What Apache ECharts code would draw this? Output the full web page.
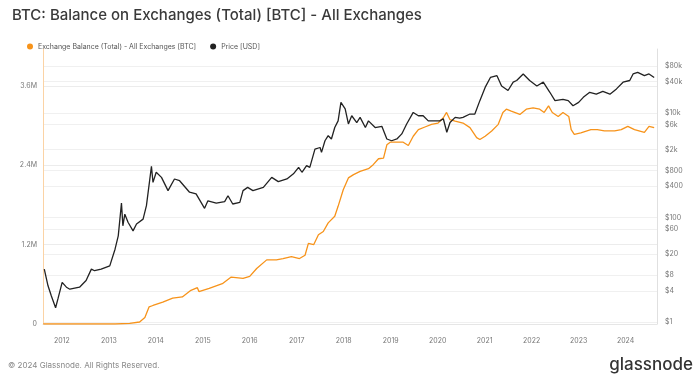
<!DOCTYPE html>
<html><head><meta charset="utf-8">
<script src="https://cdn.jsdelivr.net/npm/echarts@6/dist/echarts.min.js"></script>
<style>html,body{margin:0;padding:0;background:#fff}#c{width:700px;height:380px}</style>
</head><body><div id="c"></div>
<script>
const priceDates = ['2011-08-18','2011-09-16','2011-10-12','2011-11-14','2011-12-02','2012-01-04','2012-02-06','2012-03-04','2012-05-18','2012-07-08','2012-08-18','2012-09-12','2012-11-02','2013-01-08','2013-02-18','2013-03-15','2013-04-09','2013-04-20','2013-05-05','2013-05-30','2013-07-08','2013-08-04','2013-09-24','2013-10-20','2013-11-28','2013-12-10','2014-01-04','2014-02-14','2014-04-06','2014-05-26','2014-07-05','2014-09-20','2014-11-10','2015-01-15','2015-02-10','2015-04-16','2015-06-20','2015-07-16','2015-08-22','2015-10-16','2015-11-10','2015-12-16','2016-01-26','2016-04-16','2016-06-20','2016-08-10','2016-10-16','2016-12-06','2017-01-15','2017-02-10','2017-03-18','2017-04-12','2017-05-22','2017-07-01','2017-07-12','2017-08-08','2017-09-02','2017-09-27','2017-10-23','2017-11-18','2017-12-10','2018-01-12','2018-02-06','2018-03-04','2018-04-12','2018-05-08','2018-06-18','2018-07-12','2018-09-02','2018-10-24','2018-12-02','2019-01-08','2019-02-18','2019-03-28','2019-05-05','2019-06-25','2019-08-04','2019-09-10','2019-10-20','2019-11-28','2020-01-18','2020-02-14','2020-03-12','2020-04-06','2020-05-16','2020-06-20','2020-07-16','2020-09-08','2020-10-16','2020-11-24','2021-01-04','2021-02-14','2021-04-06','2021-05-12','2021-07-01','2021-08-10','2021-09-06','2021-10-27','2021-12-16','2022-02-10','2022-04-01','2022-05-22','2022-07-01','2022-09-01','2022-10-12','2022-11-18','2023-01-01','2023-02-06','2023-03-28','2023-05-18','2023-07-08','2023-09-01','2023-10-22','2023-12-12','2024-02-02','2024-02-28','2024-04-04','2024-05-26','2024-07-01','2024-08-10'];
const priceValues = [10.4,5.0,3.2,1.9,2.8,5.8,4.7,4.3,4.7,6.3,10.4,9.7,10.4,12,25,45,190,70,117,82,56,76,94,170,960,475,740,590,330,550,510,307,285,151,211,190,203,263,183,196,330,380,330,380,590,490,550,690,915,740,990,915,2050,2200,1780,2960,3700,3200,5300,7100,16000,12000,6200,8900,6600,8300,5300,7100,5300,5600,3200,2960,3200,4000,6200,10300,8900,8900,7100,7100,7100,7800,4300,6600,8300,8000,8300,9600,9600,17300,31000,48000,52000,33000,27000,39000,42000,56000,42000,33000,39000,25000,17300,18300,17300,13800,16000,20000,25000,23000,26000,23000,29000,39000,42000,56000,60000,52000,56000,48000];

const balanceDates = ['2011-08-10','2013-02-18','2013-06-12','2013-08-28','2013-10-08','2013-11-10','2013-12-10','2014-02-24','2014-05-12','2014-07-26','2014-10-01','2014-11-20','2014-12-02','2015-02-20','2015-06-02','2015-08-10','2015-11-10','2016-01-01','2016-02-24','2016-05-12','2016-07-26','2016-09-16','2016-11-20','2017-01-22','2017-03-06','2017-04-01','2017-05-12','2017-06-18','2017-07-26','2017-09-02','2017-10-23','2017-11-18','2017-12-28','2018-02-06','2018-03-18','2018-05-08','2018-07-12','2018-08-18','2018-09-28','2018-11-06','2018-12-02','2018-12-28','2019-04-08','2019-05-18','2019-06-25','2019-08-04','2019-09-24','2019-11-14','2020-01-04','2020-02-14','2020-03-10','2020-04-06','2020-05-16','2020-07-16','2020-09-08','2020-10-30','2020-11-24','2021-01-04','2021-02-24','2021-04-16','2021-05-22','2021-06-18','2021-07-26','2021-10-01','2021-11-20','2022-01-12','2022-03-04','2022-04-08','2022-05-12','2022-06-10','2022-07-26','2022-09-01','2022-10-16','2022-11-04','2022-11-28','2023-01-18','2023-04-06','2023-05-26','2023-07-20','2023-10-08','2023-11-28','2024-01-18','2024-03-10','2024-05-26','2024-07-01','2024-08-10'];
const balanceValues = [0,0,10000,30000,100000,260000,280000,330000,390000,410000,510000,550000,490000,540000,610000,710000,690000,720000,840000,970000,970000,990000,1020000,990000,1040000,1220000,1200000,1350000,1400000,1530000,1630000,1780000,2030000,2210000,2260000,2310000,2350000,2410000,2500000,2510000,2710000,2750000,2750000,2700000,2840000,2940000,2980000,3020000,3040000,3120000,3200000,3090000,3070000,3040000,2970000,2820000,2790000,2840000,2920000,3020000,3200000,3250000,3220000,3170000,3250000,3270000,3250000,3200000,3300000,3200000,3140000,3200000,3140000,2940000,2870000,2890000,2940000,2940000,2920000,2920000,2940000,2990000,2940000,2900000,2990000,2970000];

const leftTicks = [0, 1200000, 2400000, 3600000];
const priceTicks = [1, 4, 8, 20, 60, 100, 400, 800, 2000, 6000, 10000, 40000, 80000];
const yearTicks = ['2012','2013','2014','2015','2016','2017','2018','2019','2020','2021','2022','2023','2024'];

const FONT = 'Inter, Roboto, "Noto Sans", sans-serif';
const ts = d => Date.parse(d + 'T00:00:00Z');
const chart = echarts.init(document.getElementById('c'));
const yearTs = yearTicks.map(y => ts(y + '-01-01'));

chart.setOption({
  animation: false,
  backgroundColor: '#fff',
  textStyle: { fontFamily: FONT },
  title: {
    text: 'BTC: Balance on Exchanges (Total) [BTC] - All Exchanges',
    left: 7, top: 3,
    textStyle: { fontSize: 15, fontWeight: 500, color: '#3a3a3a', fontFamily: FONT }
  },
  legend: {
    left: 22, top: 38, itemWidth: 6, itemHeight: 6, itemGap: 14, icon: 'circle',
    textStyle: { fontSize: 7, color: '#555', fontFamily: FONT },
    data: ['Exchange Balance (Total) - All Exchanges [BTC]', 'Price [USD]']
  },
  grid: { left: 43, right: 43, top: 49, bottom: 56 },
  xAxis: {
    type: 'value',
    min: ts('2011-08-08'),
    max: ts('2024-09-01'),
    axisLine: { show: true, lineStyle: { color: '#e6e6e6' } },
    axisTick: { show: false, customValues: yearTs },
    splitLine: { show: false },
    axisLabel: {
      customValues: yearTs, fontSize: 7, color: '#777', margin: 13,
      formatter: v => String(new Date(v).getUTCFullYear())
    }
  },
  yAxis: [
    {
      type: 'value', min: 0, max: 4160000, position: 'left',
      axisLine: { show: true, lineStyle: { color: '#fbd3a5' } },
      axisTick: { show: false, customValues: leftTicks },
      splitLine: { show: true, lineStyle: { color: '#ececec', width: 1 } },
      axisLabel: {
        customValues: leftTicks, fontSize: 7, color: '#777', margin: 6,
        formatter: v => v === 0 ? '0' : (v / 1e6).toFixed(1) + 'M'
      }
    },
    {
      type: 'log', logBase: 10, min: 0.93, max: 168000, position: 'right',
      axisLine: { show: true, lineStyle: { color: '#e0e0e0' } },
      axisTick: { show: false, customValues: priceTicks },
      splitLine: { show: true, lineStyle: { color: '#f0f0f0', width: 1 } },
      axisLabel: {
        customValues: priceTicks, fontSize: 7, color: '#777', margin: 8,
        formatter: v => v >= 1000 ? '$' + Math.round(v / 1000) + 'k' : '$' + Math.round(v)
      }
    }
  ],
  series: [
    {
      name: 'Exchange Balance (Total) - All Exchanges [BTC]', type: 'line', yAxisIndex: 0,
      showSymbol: false, symbol: 'circle', color: '#f7931a',
      lineStyle: { width: 1.3, color: '#f7931a' },
      data: balanceDates.map((d, i) => [ts(d), balanceValues[i]])
    },
    {
      name: 'Price [USD]', type: 'line', yAxisIndex: 1,
      showSymbol: false, symbol: 'circle', color: '#222',
      lineStyle: { width: 1.3, color: '#222' },
      data: priceDates.map((d, i) => [ts(d), priceValues[i]])
    }
  ],
  graphic: [
    { type: 'text', left: 8, top: 362, style: { text: '© 2024 Glassnode. All Rights Reserved.', fontSize: 8, fill: '#888', fontFamily: FONT } },
    { type: 'text', right: 7, top: 356, style: { text: 'glassnode', fontSize: 17, fill: '#333', fontFamily: FONT, fontWeight: 500 } }
  ]
});
</script></body></html>
